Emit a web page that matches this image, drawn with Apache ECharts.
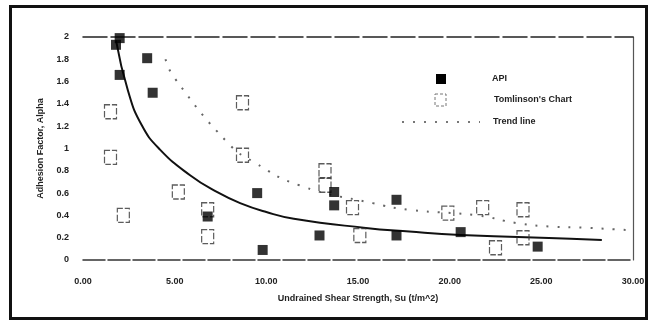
<!DOCTYPE html>
<html>
<head>
<meta charset="utf-8">
<script src="https://cdn.jsdelivr.net/npm/echarts@6/dist/echarts.min.js"></script>
<style>
html,body{margin:0;padding:0;background:#fff;}
#frame{position:absolute;left:9px;top:5px;width:633px;height:309px;border:3px solid #111;}
#chart{position:absolute;left:0;top:0;width:652px;height:324px;}
</style>
</head>
<body>
<div id="frame"></div>
<div id="chart"></div>
<script>
// X axis: Undrained shear strength (t/m^2); Y axis: adhesion factor alpha
const xTicks = [0, 5, 10, 15, 20, 25, 30];
const yTicks = [0, 0.2, 0.4, 0.6, 0.8, 1, 1.2, 1.4, 1.6, 1.8, 2];

// API data points (filled squares)
const apiX = [2.0, 1.8, 3.5, 2.0, 3.8, 6.8, 9.5, 9.8, 12.9, 13.7, 13.7, 17.1, 17.1, 20.6, 24.8];
const apiY = [1.99, 1.93, 1.81, 1.66, 1.50, 0.39, 0.60, 0.09, 0.22, 0.61, 0.49, 0.54, 0.22, 0.25, 0.12];

// Tomlinson's chart points (open squares)
const tomX = [1.5, 1.5, 2.2, 5.2, 6.8, 6.8, 8.7, 8.7, 13.2, 13.2, 14.7, 15.1, 19.9, 21.8, 22.5, 24.0, 24.0];
const tomY = [1.33, 0.92, 0.40, 0.61, 0.45, 0.21, 1.41, 0.94, 0.80, 0.67, 0.47, 0.22, 0.42, 0.47, 0.11, 0.45, 0.20];

// Solid fitted curve
const fitX = [1.8, 2.45, 3.2, 4.2, 5.84, 7.3, 8.57, 10.0, 11.5, 15.3, 17.8, 20.6, 26.6, 28.3];
const fitY = [1.97, 1.52, 1.21, 0.99, 0.76, 0.61, 0.51, 0.43, 0.37, 0.29, 0.255, 0.225, 0.19, 0.18];

// Dotted trend line
const trendX = [4.5, 4.96, 7.9, 9.3, 11.8, 15.8, 17.8, 21.5, 23.7, 25.5, 27.3, 29.6];
const trendY = [1.80, 1.64, 1.05, 0.88, 0.67, 0.51, 0.45, 0.40, 0.33, 0.30, 0.29, 0.27];

const legendNames = ['API', "Tomlinson's Chart", 'Trend line'];

const zip = (a, b) => a.map((v, i) => [v, b[i]]);

const chart = echarts.init(document.getElementById('chart'));
const lblFont = {fontFamily: 'Liberation Sans, Arial, sans-serif', fontSize: 9, color: '#222', fontWeight: 'bold'};

chart.setOption({
  animation: false,
  grid: {left: 83, right: 19, top: 37, bottom: 64},
  xAxis: [{
    type: 'value', min: 0, max: 30, interval: 5, position: 'bottom',
    name: 'Undrained Shear Strength, Su (t/m^2)', nameLocation: 'middle', nameGap: 34,
    nameTextStyle: Object.assign({}, lblFont, {fontSize: 9}),
    axisLine: {show: true, onZero: false, lineStyle: {color: '#333', width: 1.5, type: [22, 3]}},
    axisTick: {show: false},
    splitLine: {show: false},
    axisLabel: Object.assign({}, lblFont, {margin: 17, formatter: v => xTicks.includes(v) ? v.toFixed(2) : ''})
  }, {
    type: 'value', min: 0, max: 30, position: 'top',
    axisLine: {show: true, onZero: false, lineStyle: {color: '#222', width: 1.5, type: [24, 4]}},
    axisTick: {show: false}, axisLabel: {show: false}, splitLine: {show: false}
  }],
  yAxis: [{
    type: 'value', min: 0, max: 2, interval: 0.2, position: 'left',
    name: 'Adhesion Factor, Alpha', nameLocation: 'middle', nameGap: 38, nameRotate: 90,
    nameTextStyle: Object.assign({}, lblFont, {fontSize: 9}),
    axisLine: {show: false, onZero: false}, axisTick: {show: false}, splitLine: {show: false},
    axisLabel: Object.assign({}, lblFont, {margin: 14, formatter: v => {
      const t = yTicks.find(k => Math.abs(k - v) < 1e-6);
      return t === undefined ? '' : String(t);
    }})
  }, {
    type: 'value', min: 0, max: 2, position: 'right',
    axisLine: {show: true, onZero: false, lineStyle: {color: '#555', width: 1.2}},
    axisTick: {show: false}, axisLabel: {show: false}, splitLine: {show: false}
  }],
  series: [{
    name: legendNames[0], type: 'scatter', symbol: 'rect', symbolSize: [10, 10],
    itemStyle: {color: '#000'}, z: 5,
    data: zip(apiX, apiY)
  }, {
    name: legendNames[1], type: 'scatter', symbol: 'rect', symbolSize: [12, 14],
    itemStyle: {color: 'rgba(0,0,0,0)', borderColor: '#333', borderWidth: 1.3, borderType: [6, 2]}, z: 4,
    data: zip(tomX, tomY)
  }, {
    name: 'Fit', type: 'line', smooth: 0.5, showSymbol: false,
    lineStyle: {color: '#111', width: 2}, z: 3,
    data: zip(fitX, fitY)
  }, {
    name: legendNames[2], type: 'line', smooth: 0.5, showSymbol: false,
    lineStyle: {color: '#666', width: 2, type: [2, 9]}, z: 2,
    data: zip(trendX, trendY)
  }],
  graphic: [
    {type: 'rect', shape: {x: 436, y: 74, width: 10, height: 10}, style: {fill: '#000'}},
    {type: 'text', left: 492, top: 74, style: {text: legendNames[0], font: 'bold 9px Liberation Sans, Arial, sans-serif', fill: '#222'}},
    {type: 'rect', shape: {x: 435, y: 94, width: 11, height: 12}, style: {fill: 'none', stroke: '#777', lineWidth: 1, lineDash: [3, 2]}},
    {type: 'text', left: 494, top: 95, style: {text: legendNames[1], font: 'bold 9px Liberation Sans, Arial, sans-serif', fill: '#222'}},
    {type: 'line', shape: {x1: 402, y1: 122, x2: 480, y2: 122}, style: {stroke: '#777', lineWidth: 2, lineDash: [2, 9]}},
    {type: 'text', left: 493, top: 117, style: {text: legendNames[2], font: 'bold 9px Liberation Sans, Arial, sans-serif', fill: '#222'}}
  ]
});
</script>
</body>
</html>
